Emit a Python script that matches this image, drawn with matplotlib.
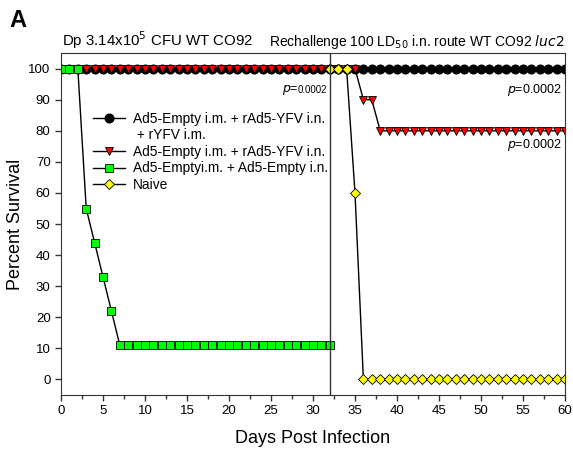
import numpy as np
import matplotlib
matplotlib.use("Agg")
import matplotlib.pyplot as plt
from matplotlib.lines import Line2D
from matplotlib.ticker import MultipleLocator

plt.rcParams["font.family"] = ["Liberation Sans", "DejaVu Sans"]

# survival data (percent)
days_black = np.arange(0, 61)
surv_black = [100] * 61

days_red = np.arange(0, 61)
surv_red = [100] * 36 + [90, 90] + [80] * 23

days_green = np.arange(0, 33)
surv_green = [100, 100, 100, 55, 44, 33, 22] + [11] * 26

days_yellow = np.arange(32, 61)
surv_yellow = [100, 100, 100, 60] + [0] * 25

labels = [
    "Ad5-Empty i.m. + rAd5-YFV i.n.",
    "Ad5-Empty i.m. + rAd5-YFV i.n.",
    "Ad5-Emptyi.m. + Ad5-Empty i.n.",
    "Naive",
]
label_cont = " + rYFV i.m."

fig = plt.figure(figsize=(5.73, 4.54), dpi=100)
ax = fig.add_axes([0.1065, 0.130, 0.8795, 0.753])

l1, = ax.plot(days_black, surv_black, "-o", color="black", mfc="black", mec="black",
              ms=6.2, lw=1)
l2, = ax.plot(days_red, surv_red, "-v", color="black", mfc="#ff0000", mec="black",
              mew=0.6, ms=5.5, lw=1)
l3, = ax.plot(days_green, surv_green, "-s", color="black", mfc="#00ff00", mec="black",
              mew=0.6, ms=5.5, lw=1)
l4, = ax.plot(days_yellow, surv_yellow, "-D", color="black", mfc="#ffff00", mec="black",
              mew=0.6, ms=5, lw=1)

ax.axvline(32, color="#333333", lw=1)

ax.set_xlim(0, 60)
ax.set_ylim(-5, 105)
ax.xaxis.set_major_locator(MultipleLocator(5))
ax.xaxis.set_minor_locator(MultipleLocator(2.5))
ax.set_yticks(np.arange(0, 101, 10))
ax.tick_params(direction="out", length=4, width=1, labelsize=9.5, color="#333333")
ax.tick_params(which="minor", direction="out", length=3, width=1, color="#333333")
for s in ax.spines.values():
    s.set_color("#333333")

ax.set_xlabel("Days Post Infection", fontsize=13, labelpad=9)
ax.set_ylabel("Percent Survival", fontsize=13, labelpad=3)

blank = Line2D([], [], linestyle="none")
ax.legend([l1, blank, l2, l3, l4],
          [labels[0], label_cont, labels[1], labels[2], labels[3]],
          loc="upper left", bbox_to_anchor=(0.05, 0.848), frameon=False,
          fontsize=9.9, handlelength=2.3, handletextpad=0.6,
          labelspacing=0.18, borderpad=0)

ax.annotate("0.0002", (31.7, 93), ha="right", va="center", fontsize=7)
ax.annotate(r"$p$=", (31.7, 93), xytext=(-20.5, 0), textcoords="offset points",
            ha="right", va="center", fontsize=9)
ax.text(59.6, 93, r"$p$=0.0002", ha="right", va="center", fontsize=9)
ax.text(59.6, 75.3, r"$p$=0.0002", ha="right", va="center", fontsize=9)

fig.text(0.108, 0.888, r"Dp 3.14x10$^5$ CFU WT CO92", fontsize=10.8, ha="left", va="bottom")
fig.text(0.986, 0.888, r"Rechallenge 100 LD$_{50}$ i.n. route WT CO92 $luc2$",
         fontsize=10, ha="right", va="bottom")
fig.text(0.017, 0.955, "A", fontsize=17, fontweight="bold", ha="left", va="center")

fig.savefig("out.png", dpi=100)
